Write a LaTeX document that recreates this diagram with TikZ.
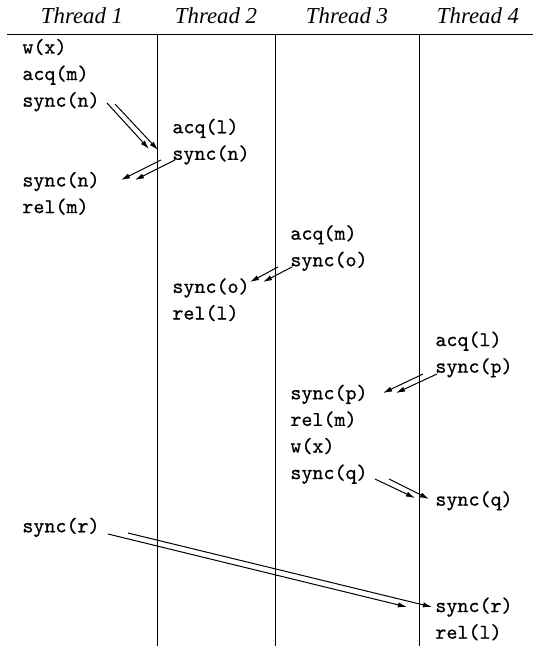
\documentclass[tikz,border=0pt]{standalone}
\usepackage{fontspec}
\newfontfamily\headfont{Liberation Serif}
\newfontfamily\opfont{Latin Modern Mono}[FakeBold=0.6]
\usepackage{tikz}
\usetikzlibrary{
  arrows.meta,
}

\tikzset{
  op/.style={font=\fontsize{10.5}{12}\selectfont\opfont, inner sep=0pt, anchor=base west},
  head/.style={font=\fontsize{11.4}{13}\selectfont\headfont\itshape, inner sep=0pt, anchor=base},
  lane/.style={line width=0.5pt, black},
  syncarrow/.style={-{Latex[length=4.5pt,width=2.6pt]}, line width=0.5pt},
}

\begin{document}
\begin{tikzpicture}[x=0.5pt, y=-0.5pt]
  \useasboundingbox (0,0) rectangle (533,646);
  % 4 thread headers
  \foreach \i/\cx in {1/82, 2/216, 3/347, 4/478} {
    \node[head] (h\i) at (\cx, 23.5) {Thread \i};
  }
  \coordinate (ruleL) at (7,35);
  \coordinate (ruleR) at (533,35);
  \draw[lane] (ruleL) -- (ruleR);
  % 3 lanes between the threads
  \foreach \i/\lx in {1/157, 2/275, 3/419} {
    \coordinate (top\i) at (\lx,35);
    \coordinate (bot\i) at (\lx,646);
    \draw[lane] (top\i) -- (bot\i);
  }
  % events (name/column/row/text)
  \foreach \n/\cx/\r/\t in {w1/22/0/w(x), acq1/22/1/acq(m), syn1/22/2/sync(n),
      synb1/22/5/sync(n), rel1/22/6/rel(m), syr1/22/18/sync(r),
      acq2/172/3/acq(l), syn2/172/4/sync(n), syo2/172/9/sync(o), rel2/172/10/rel(l),
      acq3/290/7/acq(m), syo3/290/8/sync(o), syp3/290/13/sync(p),
      rel3/290/14/rel(m), w3/290/15/w(x), syq3/290/16/sync(q),
      acq4/435/11/acq(l), syp4/435/12/sync(p), syq4/435/17/sync(q),
      syr4/435/21/sync(r), rel4/435/22/rel(l)} {
    \node[op] (\n) at (\cx, {53.5+26.6*\r}) {\t};
  }
  % sync arrows, two per message
  \coordinate (na1) at (107,103); \coordinate (na2) at (149,149);
  \coordinate (nb1) at (115,104); \coordinate (nb2) at (158,150);
  \coordinate (nc1) at (161,160); \coordinate (nc2) at (121,180);
  \coordinate (nd1) at (175,160); \coordinate (nd2) at (135,180);
  \coordinate (oa1) at (278,267); \coordinate (oa2) at (250,282);
  \coordinate (ob1) at (292,267); \coordinate (ob2) at (263,282);
  \coordinate (pa1) at (423,374); \coordinate (pa2) at (383,393);
  \coordinate (pb1) at (437,374); \coordinate (pb2) at (396,393);
  \coordinate (qa1) at (375,479); \coordinate (qa2) at (415,498);
  \coordinate (qb1) at (389,479); \coordinate (qb2) at (429,499);
  \coordinate (ra1) at (108,534); \coordinate (ra2) at (407,607);
  \coordinate (rb1) at (128,533); \coordinate (rb2) at (432,607);
  \foreach \m in {na, nb, nc, nd, oa, ob, pa, pb, qa, qb, ra, rb} {
    \draw[syncarrow] (\m1) -- (\m2);
  }
\end{tikzpicture}
\end{document}
